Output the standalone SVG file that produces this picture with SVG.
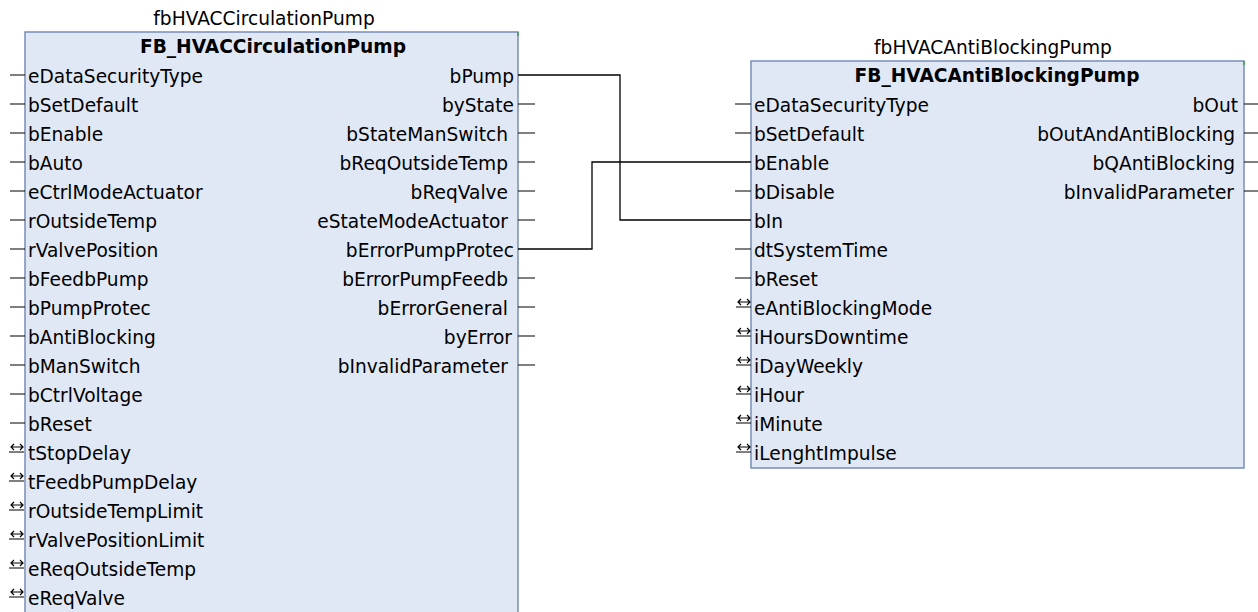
<svg xmlns="http://www.w3.org/2000/svg" xmlns:xlink="http://www.w3.org/1999/xlink" width="1258" height="612" viewBox="0 0 1258 612">
<style>
  text { font-family: "DejaVu Sans", "Liberation Sans", sans-serif; font-size: 18.6px; fill: #000; }
  .title { font-weight: bold; text-anchor: middle; }
  .inst { text-anchor: middle; }
  .out { text-anchor: end; }
  .box { fill: #e1e8f5; stroke: #6f87b3; stroke-width: 1.4; }
  .pin { stroke: #000; stroke-width: 1.2; fill: none; }
  .tick { stroke: #3aa23a; stroke-width: 1.4; }
  .wire { stroke: #000; stroke-width: 1.3; fill: none; }
</style>
<defs>
  <path id="io" d="M0,0 H15 M2,-5 H14 M5,-8 L2,-5 L5,-2 M11,-8 L14,-5 L11,-2" class="pin"/>
</defs>
<rect width="1258" height="612" fill="#ffffff"/>

<g id="fbHVACCirculationPump">
  <text class="inst" x="264" y="25">fbHVACCirculationPump</text>
  <rect class="box" x="25" y="32" width="493" height="600"/>
  <line class="tick" x1="518" y1="32" x2="518" y2="36"/>
  <text class="title" x="273" y="53">FB_HVACCirculationPump</text>
  <g class="pin">
    <path d="M10,75H25 M10,104H25 M10,133H25 M10,162H25 M10,191H25 M10,220H25 M10,249H25 M10,278H25 M10,307H25 M10,336H25 M10,365H25 M10,394H25 M10,423H25"/>
    <path d="M518,104H535 M518,133H535 M518,162H535 M518,191H535 M518,220H535 M518,278H535 M518,307H535 M518,336H535 M518,365H535"/>
  </g>
  <use xlink:href="#io" x="9" y="452"/>
  <use xlink:href="#io" x="9" y="481"/>
  <use xlink:href="#io" x="9" y="510"/>
  <use xlink:href="#io" x="9" y="539"/>
  <use xlink:href="#io" x="9" y="568"/>
  <use xlink:href="#io" x="9" y="597"/>
  <text x="28" y="83">eDataSecurityType</text>
  <text x="28" y="112">bSetDefault</text>
  <text x="28" y="141">bEnable</text>
  <text x="28" y="170">bAuto</text>
  <text x="28" y="199">eCtrlModeActuator</text>
  <text x="28" y="228">rOutsideTemp</text>
  <text x="28" y="257">rValvePosition</text>
  <text x="28" y="286">bFeedbPump</text>
  <text x="28" y="315">bPumpProtec</text>
  <text x="28" y="344">bAntiBlocking</text>
  <text x="28" y="373">bManSwitch</text>
  <text x="28" y="402">bCtrlVoltage</text>
  <text x="28" y="431">bReset</text>
  <text x="28" y="460">tStopDelay</text>
  <text x="28" y="489">tFeedbPumpDelay</text>
  <text x="28" y="518">rOutsideTempLimit</text>
  <text x="28" y="547">rValvePositionLimit</text>
  <text x="28" y="576">eReqOutsideTemp</text>
  <text x="28" y="605">eReqValve</text>
  <text class="out" x="514" y="83">bPump</text>
  <text class="out" x="514" y="112">byState</text>
  <text class="out" x="508" y="141">bStateManSwitch</text>
  <text class="out" x="508" y="170">bReqOutsideTemp</text>
  <text class="out" x="508" y="199">bReqValve</text>
  <text class="out" x="508" y="228">eStateModeActuator</text>
  <text class="out" x="514" y="257">bErrorPumpProtec</text>
  <text class="out" x="508" y="286">bErrorPumpFeedb</text>
  <text class="out" x="508" y="315">bErrorGeneral</text>
  <text class="out" x="512" y="344">byError</text>
  <text class="out" x="508" y="373">bInvalidParameter</text>
</g>

<g id="fbHVACAntiBlockingPump">
  <text class="inst" x="993" y="54">fbHVACAntiBlockingPump</text>
  <rect class="box" x="751" y="61" width="493" height="407"/>
  <line class="tick" x1="1244" y1="61" x2="1244" y2="65"/>
  <text class="title" x="997" y="82">FB_HVACAntiBlockingPump</text>
  <g class="pin">
    <path d="M735,104H751 M735,133H751 M735,191H751 M735,249H751 M735,278H751"/>
    <path d="M1244,104H1258 M1244,133H1258 M1244,162H1258 M1244,191H1258"/>
  </g>
  <use xlink:href="#io" x="736" y="307"/>
  <use xlink:href="#io" x="736" y="336"/>
  <use xlink:href="#io" x="736" y="365"/>
  <use xlink:href="#io" x="736" y="394"/>
  <use xlink:href="#io" x="736" y="423"/>
  <use xlink:href="#io" x="736" y="452"/>
  <text x="754" y="112">eDataSecurityType</text>
  <text x="754" y="141">bSetDefault</text>
  <text x="754" y="170">bEnable</text>
  <text x="754" y="199">bDisable</text>
  <text x="754" y="228">bIn</text>
  <text x="754" y="257">dtSystemTime</text>
  <text x="754" y="286">bReset</text>
  <text x="754" y="315">eAntiBlockingMode</text>
  <text x="754" y="344">iHoursDowntime</text>
  <text x="754" y="373">iDayWeekly</text>
  <text x="754" y="402">iHour</text>
  <text x="754" y="431">iMinute</text>
  <text x="754" y="460">iLenghtImpulse</text>
  <text class="out" x="1238" y="112">bOut</text>
  <text class="out" x="1235" y="141">bOutAndAntiBlocking</text>
  <text class="out" x="1235" y="170">bQAntiBlocking</text>
  <text class="out" x="1234" y="199">bInvalidParameter</text>
</g>

<g id="connectors">
  <path class="wire" d="M518,75 H620 V220 H751"/>
  <path class="wire" d="M518,249 H592 V162 H751"/>
</g>
</svg>
